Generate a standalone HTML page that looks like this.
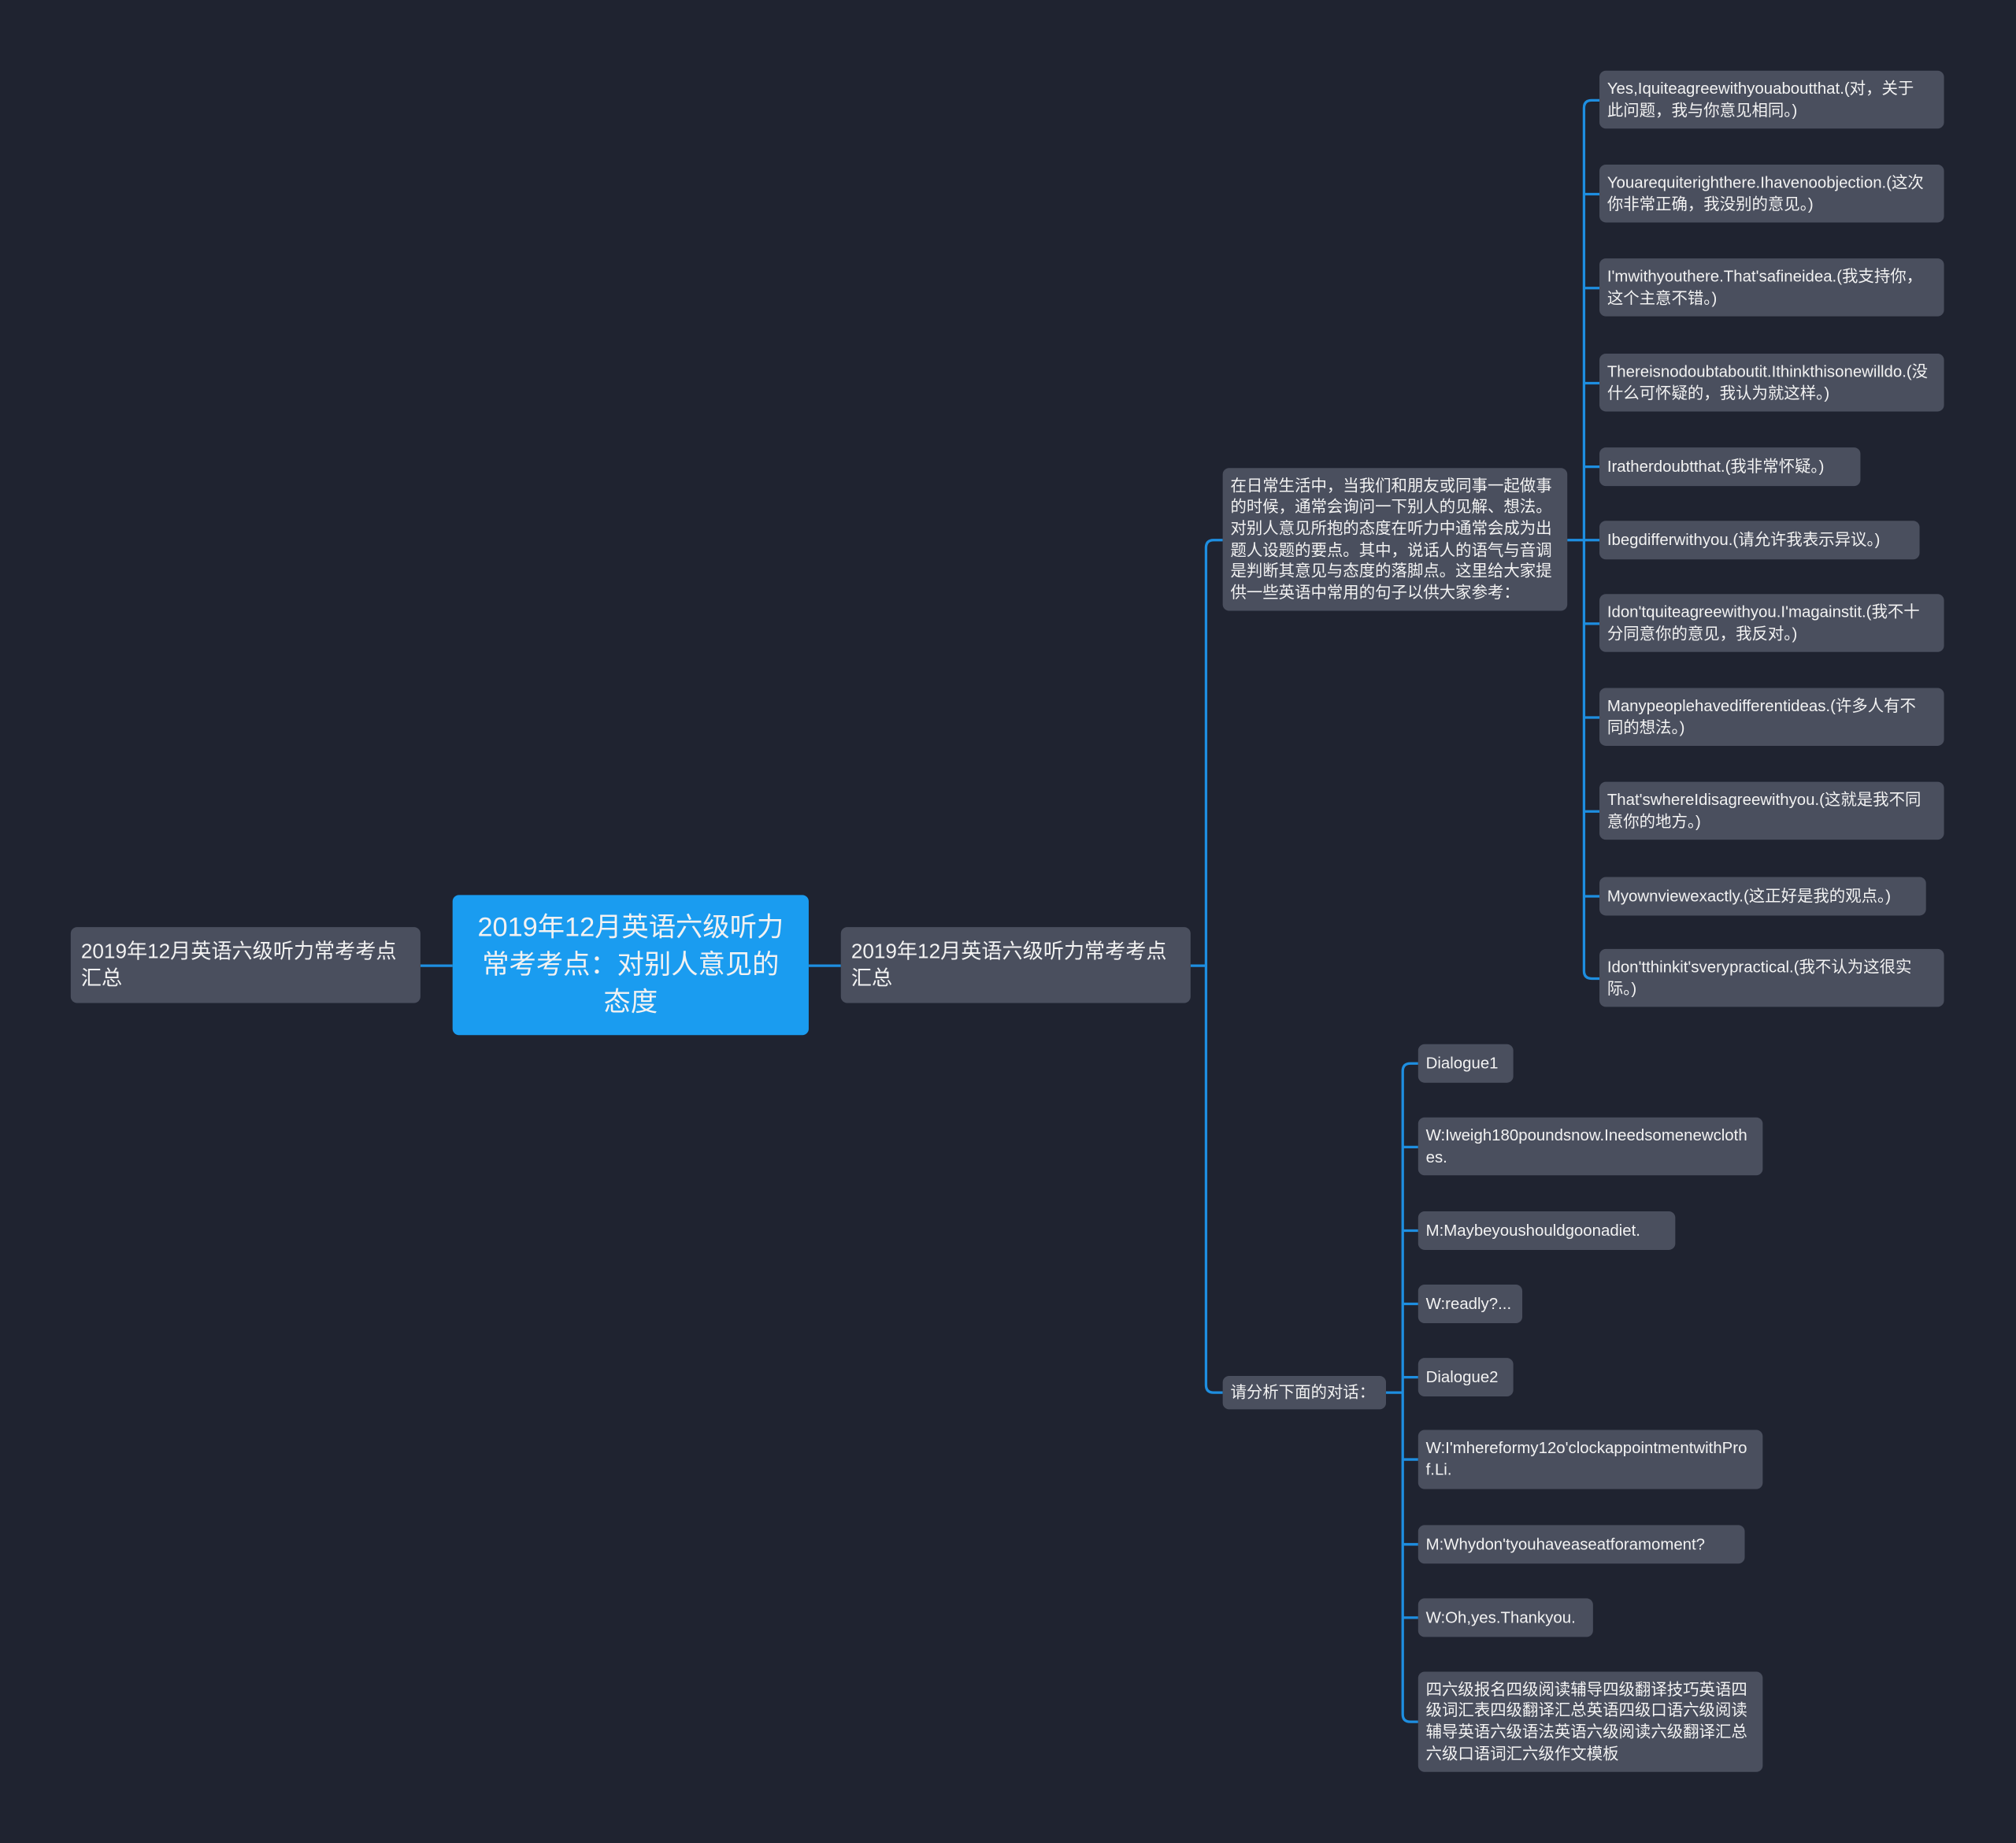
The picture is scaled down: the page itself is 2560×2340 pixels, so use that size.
<!DOCTYPE html>
<html><head><meta charset="utf-8"><style>
html,body{margin:0;padding:0;background:#1f2330;width:2560px;height:2339px;overflow:hidden}
#c{position:absolute;left:0;top:0;width:1568px;height:1433px;transform:scale(1.632653);transform-origin:0 0;font-family:"Liberation Sans","Noto Sans CJK SC",sans-serif;color:#f2f2f2}
.n{position:absolute;background:#4a4f5e;border-radius:5px;box-sizing:border-box;padding:0 6px;font-size:12.5px;line-height:17px;display:flex;align-items:center;white-space:nowrap;overflow:hidden}
.w{white-space:normal;word-break:break-all;padding-right:12px}
svg{position:absolute;left:0;top:0}
</style></head><body><div id="c">
<svg width="1568" height="1433" fill="none" stroke="#1e8ee0" stroke-width="2">
<path d="M327 751H352M629 751H654M926 751H938"/>
<path d="M951 420H944Q938 420 938 426V1077Q938 1083 944 1083H951"/>
<path d="M1219 420H1232"/>
<path d="M1244 78H1238Q1232 78 1232 84V755Q1232 761 1238 761H1244"/>
<path d="M1232 151H1244M1232 224H1244M1232 298H1244M1232 363H1244M1232 420H1244M1232 485H1244M1232 558H1244M1232 631H1244M1232 697H1244"/>
<path d="M1078 1083H1091"/>
<path d="M1103 827H1097Q1091 827 1091 833V1333Q1091 1339 1097 1339H1103"/>
<path d="M1091 892H1103M1091 957H1103M1091 1014H1103M1091 1071H1103M1091 1135H1103M1091 1201H1103M1091 1258H1103"/>
</svg>
<div class="n w" style="left:55px;top:721px;width:272px;height:59px;font-size:16px;line-height:21px;padding:0 8px">2019年12月英语六级听力常考考点汇总</div>
<div class="n w" style="left:352px;top:696px;width:277px;height:109px;background:#1a9cf0;font-size:21px;line-height:29px;justify-content:center;text-align:center;padding:0 14px">2019年12月英语六级听力常考考点：对别人意见的态度</div>
<div class="n w" style="left:654px;top:721px;width:272px;height:59px;font-size:16px;line-height:21px;padding:0 8px">2019年12月英语六级听力常考考点汇总</div>
<div class="n w" style="left:951px;top:364px;width:268px;height:111px;font-size:12.5px;line-height:16.6px;padding-right:4px">在日常生活中，当我们和朋友或同事一起做事的时候，通常会询问一下别人的见解、想法。对别人意见所抱的态度在听力中通常会成为出题人设题的要点。其中，说话人的语气与音调是判断其意见与态度的落脚点。这里给大家提供一些英语中常用的句子以供大家参考：</div>
<div class="n" style="left:951px;top:1070px;width:127px;height:26px">请分析下面的对话：</div>
<div class="n w" style="left:1244px;top:55px;width:268px;height:45px">Yes,Iquiteagreewithyouaboutthat.(对，关于此问题，我与你意见相同。)</div>
<div class="n w" style="left:1244px;top:128px;width:268px;height:45px">Youarequiterighthere.Ihavenoobjection.(这次你非常正确，我没别的意见。)</div>
<div class="n w" style="left:1244px;top:201px;width:268px;height:45px">I'mwithyouthere.That'safineidea.(我支持你，这个主意不错。)</div>
<div class="n w" style="left:1244px;top:275px;width:268px;height:45px">Thereisnodoubtaboutit.Ithinkthisonewilldo.(没什么可怀疑的，我认为就这样。)</div>
<div class="n" style="left:1244px;top:348px;width:203px;height:30px">Iratherdoubtthat.(我非常怀疑。)</div>
<div class="n" style="left:1244px;top:405px;width:249px;height:30px">Ibegdifferwithyou.(请允许我表示异议。)</div>
<div class="n w" style="left:1244px;top:462px;width:268px;height:45px">Idon'tquiteagreewithyou.I'magainstit.(我不十分同意你的意见，我反对。)</div>
<div class="n w" style="left:1244px;top:535px;width:268px;height:45px">Manypeoplehavedifferentideas.(许多人有不同的想法。)</div>
<div class="n w" style="left:1244px;top:608px;width:268px;height:45px">That'swhereIdisagreewithyou.(这就是我不同意你的地方。)</div>
<div class="n" style="left:1244px;top:682px;width:254px;height:30px">Myownviewexactly.(这正好是我的观点。)</div>
<div class="n w" style="left:1244px;top:738px;width:268px;height:45px">Idon'tthinkit'sverypractical.(我不认为这很实际。)</div>
<div class="n" style="left:1103px;top:812px;width:74px;height:30px">Dialogue1</div>
<div class="n w" style="left:1103px;top:869px;width:268px;height:45px">W:Iweigh180poundsnow.Ineedsomenewclothes.</div>
<div class="n" style="left:1103px;top:942px;width:200px;height:30px">M:Maybeyoushouldgoonadiet.</div>
<div class="n" style="left:1103px;top:999px;width:81px;height:30px">W:readly?...</div>
<div class="n" style="left:1103px;top:1056px;width:74px;height:30px">Dialogue2</div>
<div class="n w" style="left:1103px;top:1112px;width:268px;height:46px">W:I'mhereformy12o'clockappointmentwithProf.Li.</div>
<div class="n" style="left:1103px;top:1186px;width:254px;height:30px">M:Whydon'tyouhaveaseatforamoment?</div>
<div class="n" style="left:1103px;top:1243px;width:136px;height:30px">W:Oh,yes.Thankyou.</div>
<div class="n w" style="left:1103px;top:1300px;width:268px;height:78px;line-height:16.6px;padding-right:6px">四六级报名四级阅读辅导四级翻译技巧英语四级词汇表四级翻译汇总英语四级口语六级阅读辅导英语六级语法英语六级阅读六级翻译汇总六级口语词汇六级作文模板</div>
</div></body></html>
